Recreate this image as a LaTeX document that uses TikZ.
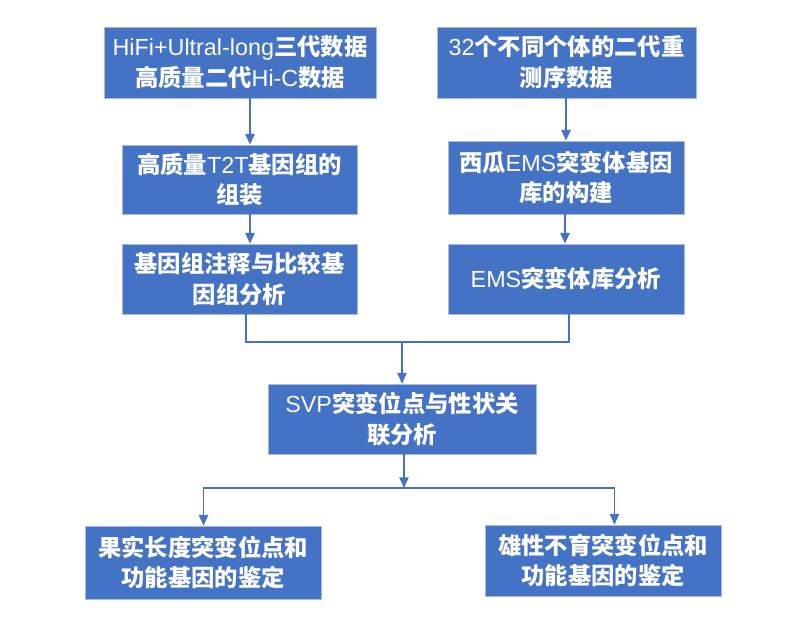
\documentclass[tikz,border=0pt]{standalone}
\usepackage{fontspec}
\setmainfont{Noto Sans CJK SC}
\newfontfamily\latf{Liberation Sans}
\newcommand{\la}[1]{{\latf\mdseries #1}}
\usetikzlibrary{arrows.meta}
\definecolor{boxblue}{HTML}{4472C4}
\definecolor{boxedge}{HTML}{A9B9D9}
\begin{document}
\begin{tikzpicture}[x=0.75pt,y=-0.75pt,
  box/.style={fill=boxblue,draw=boxedge,line width=0.6pt,text=white,align=center,
    inner sep=0pt,font=\fontsize{17.5}{23}\selectfont\bfseries},
  conn/.style={draw=boxblue,line width=1.1pt},
  arr/.style={conn,-{Triangle[length=8pt,width=7pt]}}]
\useasboundingbox (0,0) rectangle (800,620);
\node[box,minimum width=204pt,minimum height=53.25pt] (b1) at (240,62.5) {\la{HiFi+Ultral-long}三代数据\\高质量二代\la{Hi-C}数据};
\node[box,minimum width=194.25pt,minimum height=53.25pt] (b2) at (566.5,62.5) {\la{32}个不同个体的二代重\\测序数据};
\node[box,minimum width=176.25pt,minimum height=51.75pt] (b3) at (239.5,179.5) {高质量\la{T2T}基因组的\\组装};
\node[box,minimum width=177pt,minimum height=54.75pt] (b4) at (566,177.5) {西瓜\la{EMS}突变体基因\\库的构建};
\node[box,minimum width=176.25pt,minimum height=52.5pt] (b5) at (239.5,279) {基因组注释与比较基\\因组分析};
\node[box,minimum width=177pt,minimum height=52.5pt] (b6) at (566,279) {\la{EMS}突变体库分析};
\node[box,minimum width=201pt,minimum height=52.5pt] (b7) at (402,419) {\la{SVP}突变位点与性状关\\联分析};
\node[box,minimum width=177pt,minimum height=54.75pt] (b8) at (203,562.5) {果实长度突变位点和\\功能基因的鉴定};
\node[box,minimum width=177pt,minimum height=53.25pt] (b9) at (603,560.5) {雄性不育突变位点和\\功能基因的鉴定};
\coordinate (m) at (402,342);
\coordinate (s) at (404,488);
\draw[arr] (b1.south -| 250,0) -- (b3.north -| 250,0);
\draw[arr] (b2.south -| 566,0) -- (b4.north -| 566,0);
\draw[arr] (b3.south -| 250,0) -- (b5.north -| 250,0);
\draw[arr] (b4.south -| 565,0) -- (b6.north -| 565,0);
\draw[conn] (b5.south -| 246,0) |- (m);
\draw[conn] (b6.south -| 569,0) |- (m);
\draw[arr] (m) -- (b7.north -| m);
\draw[arr] (b7.south -| s) -- (s);
\draw[arr] (s) -| (b8.north -| 203.5,0);
\draw[arr] (s) -| (b9.north -| 614.5,0);
\end{tikzpicture}
\end{document}
